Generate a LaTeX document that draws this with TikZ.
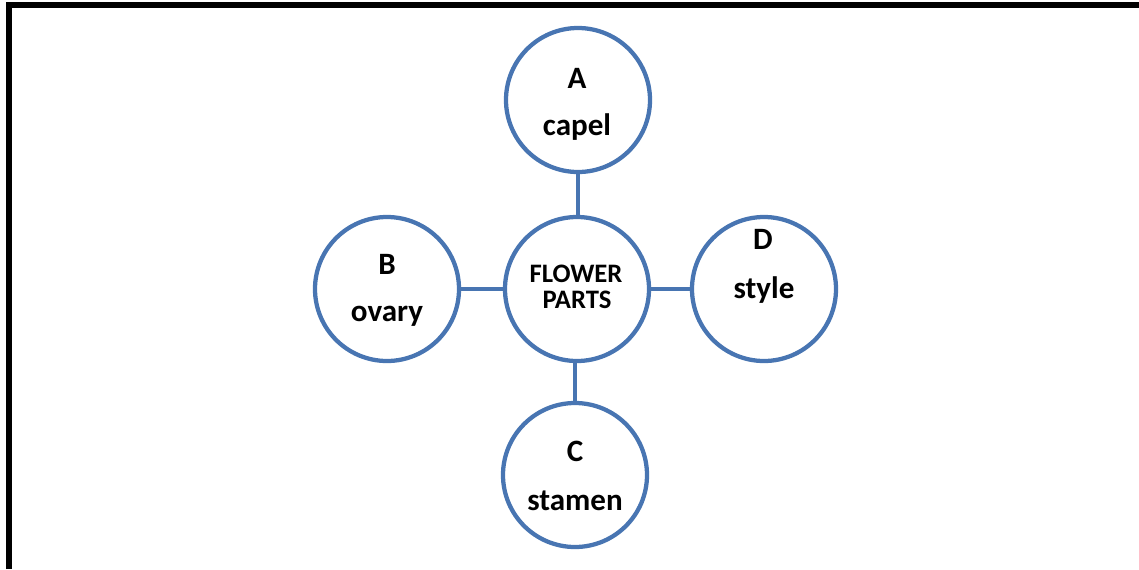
\documentclass[tikz,border=0pt]{standalone}
\usepackage{fontspec}
\setmainfont{Carlito}
\definecolor{ringblue}{RGB}{72,117,178}
\begin{document}
\begin{tikzpicture}[x=0.75pt,y=-0.75pt,
  ring/.style={circle,draw=ringblue,line width=3.2pt,minimum size=144*0.75pt,inner sep=0pt,fill=white},
  link/.style={draw=ringblue,line width=3.2pt},
  lbl/.style={anchor=base,font=\fontsize{23.3}{27}\selectfont\bfseries,inner sep=0pt},
  ctr/.style={anchor=base,font=\fontsize{20}{23}\selectfont\bfseries,inner sep=0pt}]
\useasboundingbox (0,0) rectangle (1139,569);
% frame (top and left only)
\draw[line width=4.5pt] (9,569) -- (9,4.5) -- (1139,4.5);
% circles
\node[ring] (F) at (577,289) {};
\node[ring] (A) at (578,100) {};
\node[ring] (B) at (387,289) {};
\node[ring] (C) at (575,475) {};
\node[ring] (D) at (764,289) {};
% connectors
\draw[link] (A.south) -- (A.south |- F.north);
\draw[link] (B.east) -- (F.west);
\draw[link] (C.north) -- (C.north |- F.south);
\draw[link] (D.west) -- (F.east);
% texts
\node[ctr] (f1) at (576,282) {FLOWER};
\node[ctr] (f2) at (577,308) {PARTS};
\node[lbl] (a1) at (577,88) {A};
\node[lbl] (a2) at (577,135) {capel};
\node[lbl] (b1) at (387,274) {B};
\node[lbl] (b2) at (387,321) {ovary};
\node[lbl] (c1) at (575,461) {C};
\node[lbl] (c2) at (575,510) {stamen};
\node[lbl] (d1) at (763,249) {D};
\node[lbl] (d2) at (764,298) {style};
\end{tikzpicture}
\end{document}
